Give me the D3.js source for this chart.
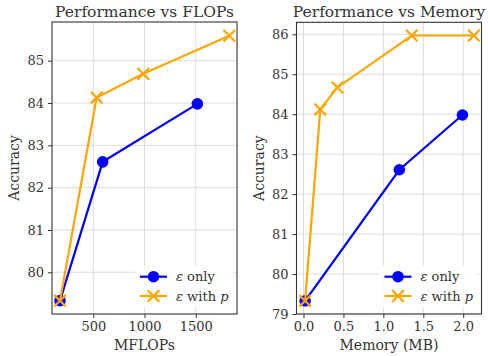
<!DOCTYPE html>
<html>
<head>
<meta charset="utf-8">
<script src="https://cdn.jsdelivr.net/npm/d3@7.9.0/dist/d3.min.js"></script>
<style>
  body { margin: 0; background: #fff; }
  svg { display: block; font-family: "DejaVu Serif", serif; }
</style>
</head>
<body>
<svg id="chart" width="488" height="356"></svg>
<script>
// left panel: accuracy vs MFLOPs
const flopsOnlyX = [175, 592, 1516];
const flopsOnlyY = [79.33, 82.61, 83.98];
const flopsWithX = [175, 533, 988, 1828];
const flopsWithY = [79.33, 84.13, 84.69, 85.59];

// right panel: accuracy vs memory (MB)
const memOnlyX = [0.02, 1.2, 1.99];
const memOnlyY = [79.33, 82.61, 83.98];
const memWithX = [0.02, 0.21, 0.425, 1.355, 2.134];
const memWithY = [79.33, 84.12, 84.67, 85.97, 85.97];

const flopsTicks = [500, 1000, 1500];
const flopsYTicks = [80, 81, 82, 83, 84, 85];
const memTicks = [0, 0.5, 1.0, 1.5, 2.0];
const memYTicks = [79, 80, 81, 82, 83, 84, 85, 86];

const svg = d3.select('#chart');

const panels = [
  {
    title: 'Performance vs FLOPs', xlabel: 'MFLOPs',
    left: 52, right: 237, top: 22, bottom: 314,
    xdom: [97, 1903], ydom: [79.015, 85.914],
    xticks: flopsTicks, yticks: flopsYTicks, xfmt: d3.format('d'),
    only: [flopsOnlyX, flopsOnlyY], withP: [flopsWithX, flopsWithY]
  },
  {
    title: 'Performance vs Memory', xlabel: 'Memory (MB)',
    left: 296.5, right: 481.5, top: 22.3, bottom: 314,
    xdom: [-0.0877, 2.229], ydom: [79, 86.3],
    xticks: memTicks, yticks: memYTicks, xfmt: d3.format('.1f'),
    only: [memOnlyX, memOnlyY], withP: [memWithX, memWithY]
  }
];

panels.forEach(p => {
  const x = d3.scaleLinear().domain(p.xdom).range([p.left, p.right]);
  const y = d3.scaleLinear().domain(p.ydom).range([p.bottom, p.top]);
  const g = svg.append('g');

  // grid
  g.append('g').selectAll('line').data(p.xticks).join('line')
    .attr('x1', d => x(d)).attr('x2', d => x(d))
    .attr('y1', p.top).attr('y2', p.bottom)
    .attr('stroke', '#dcdcdc').attr('stroke-width', 1);
  g.append('g').selectAll('line').data(p.yticks).join('line')
    .attr('y1', d => y(d)).attr('y2', d => y(d))
    .attr('x1', p.left).attr('x2', p.right)
    .attr('stroke', '#dcdcdc').attr('stroke-width', 1);

  // axes
  const xAxis = d3.axisBottom(x).tickValues(p.xticks).tickFormat(p.xfmt)
    .tickSizeInner(4).tickSizeOuter(0).tickPadding(4);
  const yAxis = d3.axisLeft(y).tickValues(p.yticks).tickFormat(d3.format('d'))
    .tickSizeInner(4).tickSizeOuter(0).tickPadding(4);
  const gx = g.append('g').attr('transform', `translate(0,${p.bottom})`).call(xAxis);
  const gy = g.append('g').attr('transform', `translate(${p.left},0)`).call(yAxis);
  [gx, gy].forEach(a => {
    a.attr('font-family', null).attr('font-size', null);
    a.select('.domain').remove();
    a.selectAll('.tick line').attr('stroke', '#333');
    a.selectAll('.tick text').attr('fill', '#333')
      .style('font-family', '"DejaVu Serif", serif').style('font-size', '13px');
  });

  // series
  const line = d3.line().x(d => x(d[0])).y(d => y(d[1]));
  const onlyPts = d3.zip(p.only[0], p.only[1]);
  const withPts = d3.zip(p.withP[0], p.withP[1]);

  g.append('path').datum(onlyPts).attr('d', line)
    .attr('fill', 'none').attr('stroke', 'blue').attr('stroke-width', 2.2);
  g.append('g').selectAll('circle').data(onlyPts).join('circle')
    .attr('cx', d => x(d[0])).attr('cy', d => y(d[1])).attr('r', 5.8)
    .attr('fill', 'blue');

  g.append('path').datum(withPts).attr('d', line)
    .attr('fill', 'none').attr('stroke', 'orange').attr('stroke-width', 2.2);
  const s = 5.8;
  g.append('g').selectAll('path').data(withPts).join('path')
    .attr('d', d => {
      const cx = x(d[0]), cy = y(d[1]);
      return `M${cx - s},${cy - s}L${cx + s},${cy + s}M${cx - s},${cy + s}L${cx + s},${cy - s}`;
    })
    .attr('stroke', 'orange').attr('stroke-width', 2.2).attr('fill', 'none');

  // frame
  g.append('rect')
    .attr('x', p.left).attr('y', p.top)
    .attr('width', p.right - p.left).attr('height', p.bottom - p.top)
    .attr('fill', 'none').attr('stroke', '#333').attr('stroke-width', 1.1);

  // title and labels
  const cx = (p.left + p.right) / 2;
  g.append('text').attr('x', cx).attr('y', 17).attr('text-anchor', 'middle')
    .attr('fill', '#333').style('font-size', '15.5px').text(p.title);
  g.append('text').attr('x', cx).attr('y', 350).attr('text-anchor', 'middle')
    .attr('fill', '#333').style('font-size', '14px').text(p.xlabel);
  g.append('text')
    .attr('transform', `translate(${p.left - 33},${(p.top + p.bottom) / 2}) rotate(-90)`)
    .attr('text-anchor', 'middle').attr('fill', '#333').style('font-size', '14px')
    .text('Accuracy');

  // legend
  const lx = p.right - 102, ly = p.bottom - 48;
  const lg = g.append('g').attr('transform', `translate(${lx},${ly})`);
  lg.append('rect').attr('x', 0).attr('y', 0).attr('width', 98).attr('height', 42)
    .attr('fill', 'white').attr('opacity', 0.8).attr('rx', 2);
  const rows = [
    { c: 'blue', m: 'circle', t: ' only' },
    { c: 'orange', m: 'x', t: ' with ' }
  ];
  rows.forEach((r, i) => {
    const yy = 10.7 + i * 19.3;
    lg.append('line').attr('x1', 5).attr('x2', 32).attr('y1', yy).attr('y2', yy)
      .attr('stroke', r.c).attr('stroke-width', 2.2);
    if (r.m === 'circle') {
      lg.append('circle').attr('cx', 18.5).attr('cy', yy).attr('r', 5.8).attr('fill', r.c);
    } else {
      lg.append('path')
        .attr('d', `M${18.5 - s},${yy - s}L${18.5 + s},${yy + s}M${18.5 - s},${yy + s}L${18.5 + s},${yy - s}`)
        .attr('stroke', r.c).attr('stroke-width', 2.2);
    }
    const t = lg.append('text').attr('x', 41).attr('y', yy + 4.5)
      .attr('fill', '#333').style('font-size', '13px');
    t.append('tspan').style('font-style', 'italic').text('ε');
    t.append('tspan').text(r.t);
    if (i === 1) t.append('tspan').style('font-style', 'italic').text('p');
  });
});
</script>
</body>
</html>
